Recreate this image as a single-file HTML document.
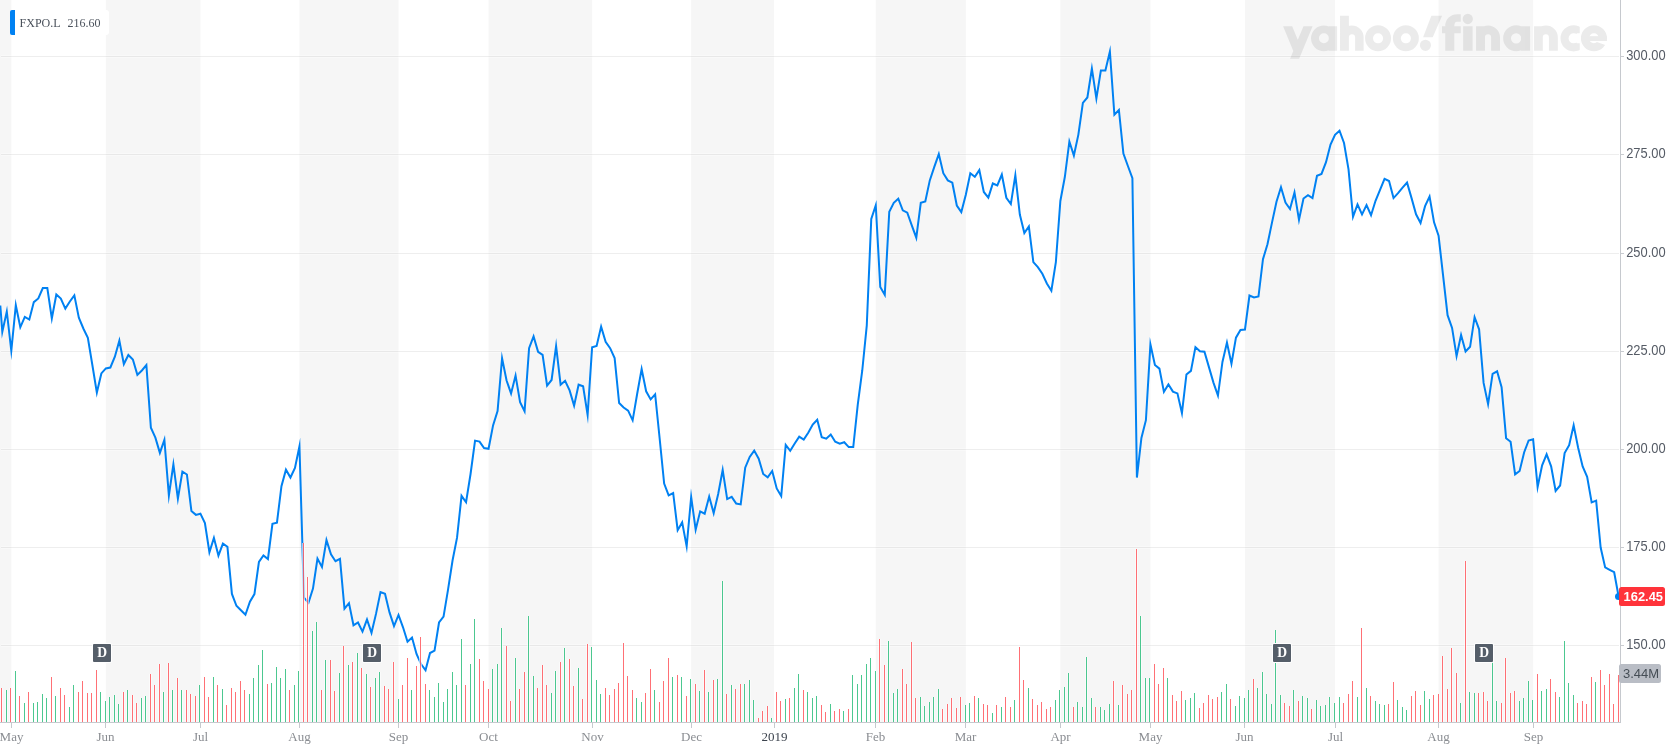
<!DOCTYPE html><html><head><meta charset="utf-8"><title>FXPO.L</title><style>html,body{margin:0;padding:0;background:#fff;}body{width:1675px;height:752px;overflow:hidden;font-family:"Liberation Sans",sans-serif;}svg{display:block;will-change:transform}text{white-space:pre}</style></head><body>
<svg width="1675" height="752" viewBox="0 0 1675 752">
<rect x="0.00" y="0" width="11.30" height="722" fill="#f6f6f6"/>
<rect x="105.86" y="0" width="94.55" height="722" fill="#f6f6f6"/>
<rect x="299.46" y="0" width="99.05" height="722" fill="#f6f6f6"/>
<rect x="488.56" y="0" width="103.56" height="722" fill="#f6f6f6"/>
<rect x="691.17" y="0" width="82.83" height="722" fill="#f6f6f6"/>
<rect x="875.77" y="0" width="90.05" height="722" fill="#f6f6f6"/>
<rect x="1060.36" y="0" width="90.05" height="722" fill="#f6f6f6"/>
<rect x="1244.96" y="0" width="90.05" height="722" fill="#f6f6f6"/>
<rect x="1438.57" y="0" width="94.55" height="722" fill="#f6f6f6"/>
<rect x="1" y="55" width="1618" height="3" fill="#fff" fill-opacity="0.3" shape-rendering="crispEdges"/>
<rect x="1" y="56" width="1618" height="1" fill="#000" fill-opacity="0.065" shape-rendering="crispEdges"/>
<rect x="1621" y="56" width="3" height="1" fill="#c9ccd1" shape-rendering="crispEdges"/>
<rect x="1" y="153" width="1618" height="3" fill="#fff" fill-opacity="0.3" shape-rendering="crispEdges"/>
<rect x="1" y="154" width="1618" height="1" fill="#000" fill-opacity="0.065" shape-rendering="crispEdges"/>
<rect x="1621" y="154" width="3" height="1" fill="#c9ccd1" shape-rendering="crispEdges"/>
<rect x="1" y="252" width="1618" height="3" fill="#fff" fill-opacity="0.3" shape-rendering="crispEdges"/>
<rect x="1" y="253" width="1618" height="1" fill="#000" fill-opacity="0.065" shape-rendering="crispEdges"/>
<rect x="1621" y="253" width="3" height="1" fill="#c9ccd1" shape-rendering="crispEdges"/>
<rect x="1" y="350" width="1618" height="3" fill="#fff" fill-opacity="0.3" shape-rendering="crispEdges"/>
<rect x="1" y="351" width="1618" height="1" fill="#000" fill-opacity="0.065" shape-rendering="crispEdges"/>
<rect x="1621" y="351" width="3" height="1" fill="#c9ccd1" shape-rendering="crispEdges"/>
<rect x="1" y="448" width="1618" height="3" fill="#fff" fill-opacity="0.3" shape-rendering="crispEdges"/>
<rect x="1" y="449" width="1618" height="1" fill="#000" fill-opacity="0.065" shape-rendering="crispEdges"/>
<rect x="1621" y="449" width="3" height="1" fill="#c9ccd1" shape-rendering="crispEdges"/>
<rect x="1" y="546" width="1618" height="3" fill="#fff" fill-opacity="0.3" shape-rendering="crispEdges"/>
<rect x="1" y="547" width="1618" height="1" fill="#000" fill-opacity="0.065" shape-rendering="crispEdges"/>
<rect x="1621" y="547" width="3" height="1" fill="#c9ccd1" shape-rendering="crispEdges"/>
<rect x="1" y="644" width="1618" height="3" fill="#fff" fill-opacity="0.3" shape-rendering="crispEdges"/>
<rect x="1" y="645" width="1618" height="1" fill="#000" fill-opacity="0.065" shape-rendering="crispEdges"/>
<rect x="1621" y="645" width="3" height="1" fill="#c9ccd1" shape-rendering="crispEdges"/>
<defs><mask id="mc" maskUnits="userSpaceOnUse" x="1550" y="10" width="70" height="60"><rect x="1550" y="10" width="70" height="60" fill="#fff"/><path d="M1579.75 21.12L1590.81 21.12L1590.81 55.51L1579.75 55.51zM1573.62 38.31L1576.84 33.15L1590.81 33.15L1590.81 43.36L1576.84 43.36z" fill="#000"/></mask><mask id="me" maskUnits="userSpaceOnUse" x="1570" y="10" width="60" height="60"><rect x="1570" y="10" width="60" height="60" fill="#fff"/><path d="M1593.93 41.00L1609.62 41.00L1609.62 46.59z" fill="#000"/></mask></defs><g opacity="0.08" fill="#000"><path fill-rule="nonzero" d="M1283.06 26.17L1292.19 26.17L1297.78 39.82L1303.48 26.17L1312.61 26.17L1299.18 58.73L1290.04 58.73L1293.27 50.88zM1311.00 38.31a12.89 12.89 0 1 1 25.79 0a12.89 12.89 0 1 1 -25.79 0zM1318.95 38.31a4.94 4.94 0 1 0 9.89 0a4.94 4.94 0 1 0 -9.89 0zM1328.73 26.17H1337.11V50.67H1328.73zM1340.01 15.75H1348.93V50.67H1340.01zM1340.01 37.24A11.82 11.82 0 0 1 1363.65 37.24V50.67H1355.06V37.24A3.06 3.06 0 0 0 1348.93 37.24V50.67H1340.01zM1365.05 38.31a13.00 13.00 0 1 1 26.00 0a13.00 13.00 0 1 1 -26.00 0zM1373.00 38.31a5.05 5.05 0 1 0 10.10 0a5.05 5.05 0 1 0 -10.10 0zM1392.88 38.31a13.00 13.00 0 1 1 26.00 0a13.00 13.00 0 1 1 -26.00 0zM1400.83 38.31a5.05 5.05 0 1 0 10.10 0a5.05 5.05 0 1 0 -10.10 0zM1431.35 15.75L1442.10 15.75L1432.75 37.24L1423.08 37.24zM1419.85 45.30a5.59 5.59 0 1 1 11.18 0a5.59 5.59 0 1 1 -11.18 0zM1445.21 50.67V25.95A11.82 11.82 0 0 1 1457.03 14.13H1460.79V21.66H1457.03A2.69 4.30 0 0 0 1454.34 25.95V50.67zM1441.98 26.17H1460.79V33.15H1441.98zM1463.15 26.17H1472.61V50.67H1463.15zM1462.62 18.97a5.16 5.16 0 1 1 10.32 0a5.16 5.16 0 1 1 -10.32 0zM1476.05 26.17H1484.97V50.67H1476.05zM1476.05 37.40A11.98 11.98 0 0 1 1500.01 37.40V50.67H1491.09V37.40A3.06 3.06 0 0 0 1484.97 37.40V50.67H1476.05zM1503.13 38.31a13.00 13.00 0 1 1 26.00 0a13.00 13.00 0 1 1 -26.00 0zM1510.97 38.31a5.16 5.16 0 1 0 10.32 0a5.16 5.16 0 1 0 -10.32 0zM1520.97 26.17H1530.10V50.67H1520.97zM1534.08 26.17H1542.78V50.67H1534.08zM1534.08 37.29A11.87 11.87 0 0 1 1557.82 37.29V50.67H1548.91V37.29A3.06 3.06 0 0 0 1542.78 37.29V50.67H1534.08z"/><path mask="url(#mc)" d="M1560.51 38.31a13.11 13.11 0 1 1 26.22 0a13.11 13.11 0 1 1 -26.22 0zM1568.57 38.31a5.05 5.05 0 1 0 10.10 0a5.05 5.05 0 1 0 -10.10 0z"/><g mask="url(#me)"><path d="M1580.93 38.31a13.00 13.00 0 1 1 26.00 0a13.00 13.00 0 1 1 -26.00 0zM1589.09 38.31a4.84 4.84 0 1 0 9.67 0a4.84 4.84 0 1 0 -9.67 0z"/></g><path d="M1585.33 36.16H1606.72V41.00H1585.33z"/></g>
<polyline points="0.30,305.50 2.30,331.95 6.80,311.48 11.30,350.80 15.81,305.21 20.31,327.28 24.81,316.83 29.31,319.51 33.82,302.10 38.32,298.50 42.82,288.00 47.32,288.00 51.83,318.51 56.33,294.51 60.83,298.50 65.33,308.55 69.84,301.50 74.34,295.34 78.84,317.70 83.34,328.50 87.85,337.80 92.35,365.00 96.85,392.59 101.35,373.40 105.86,368.40 110.36,367.50 114.86,356.70 119.36,340.70 123.86,364.07 128.37,355.01 132.87,359.50 137.37,374.90 141.87,370.50 146.38,365.12 150.88,427.70 155.38,437.60 159.88,452.87 164.39,439.81 168.89,495.46 173.39,464.37 177.89,498.61 182.40,471.63 186.90,474.50 191.40,510.90 195.90,514.87 200.41,513.68 204.91,523.00 209.41,552.25 213.91,537.86 218.42,555.58 222.92,543.65 227.42,546.80 231.92,593.90 236.42,605.80 240.93,610.30 245.43,614.76 249.93,601.70 254.43,594.10 258.94,561.80 263.44,555.48 267.94,559.04 272.44,523.90 276.95,522.60 281.45,486.20 285.95,469.67 290.45,477.49 294.96,468.00 299.46,446.19 303.96,597.60 308.46,602.71 312.97,588.60 317.47,558.62 321.97,567.01 326.47,540.08 330.98,554.40 335.48,561.19 339.98,558.79 344.48,608.70 348.98,603.16 353.49,625.28 357.99,622.44 362.49,631.57 366.99,619.55 371.50,632.81 376.00,613.90 380.50,592.11 385.00,593.70 389.51,612.40 394.01,626.13 398.51,614.93 403.01,627.30 407.52,641.76 412.02,637.57 416.52,653.90 421.02,664.10 425.53,670.31 430.03,653.00 434.53,650.70 439.03,622.50 443.54,616.60 448.04,589.60 452.54,560.50 457.04,537.70 461.54,495.81 466.05,502.22 470.55,474.00 475.05,440.59 479.55,441.60 484.06,448.00 488.56,448.76 493.06,425.40 497.56,411.00 502.07,358.24 506.57,380.50 511.07,393.42 515.57,375.53 520.08,402.10 524.58,411.19 529.08,348.20 533.58,336.45 538.09,351.80 542.59,354.90 547.09,385.62 551.59,380.00 556.10,346.18 560.60,384.73 565.10,380.77 569.60,390.40 574.10,405.65 578.61,384.69 583.11,386.30 587.61,414.95 592.11,347.30 596.62,345.90 601.12,326.64 605.62,341.90 610.12,348.20 614.63,358.10 619.13,403.00 623.63,407.50 628.13,410.70 632.64,420.31 637.14,394.00 641.64,369.00 646.14,391.30 650.65,399.40 655.15,394.30 659.65,438.50 664.15,483.50 668.66,495.29 673.16,492.99 677.66,530.17 682.16,522.43 686.66,546.34 691.17,497.00 695.67,529.65 700.17,511.36 704.67,513.68 709.18,496.60 713.68,513.14 718.18,494.00 722.68,470.02 727.19,499.09 731.69,496.90 736.19,503.60 740.69,504.43 745.20,467.70 749.70,456.90 754.20,450.63 758.70,458.70 763.21,474.00 767.71,477.39 772.21,471.02 776.71,488.40 781.22,496.09 785.72,444.91 790.22,450.83 794.72,443.50 799.22,436.67 803.73,439.57 808.23,432.70 812.73,424.60 817.23,419.70 821.74,437.20 826.24,438.65 830.74,434.48 835.24,441.70 839.75,443.70 844.25,442.25 848.75,447.10 853.25,447.10 857.76,404.60 862.26,370.50 866.76,325.70 871.26,219.00 875.77,205.42 880.27,287.00 884.77,294.88 889.27,211.80 893.78,202.80 898.28,198.76 902.78,210.40 907.28,212.70 911.78,225.30 916.29,237.71 920.79,202.80 925.29,201.40 929.79,180.40 934.30,166.90 938.80,154.11 943.30,173.20 947.80,180.40 952.31,182.70 956.81,205.50 961.31,212.10 965.81,194.80 970.32,173.32 974.82,176.81 979.32,170.12 983.82,192.00 988.33,197.58 992.83,183.47 997.33,185.49 1001.83,174.55 1006.34,197.80 1010.84,204.06 1015.34,175.30 1019.84,214.50 1024.34,232.99 1028.85,226.39 1033.35,262.10 1037.85,267.10 1042.35,273.80 1046.86,283.50 1051.36,290.76 1055.86,262.10 1060.36,201.00 1064.87,176.80 1069.37,141.52 1073.87,155.52 1078.37,134.60 1082.88,102.90 1087.38,97.50 1091.88,68.50 1096.38,98.40 1100.89,70.40 1105.39,70.40 1109.89,51.60 1114.39,114.73 1118.90,109.94 1123.40,153.50 1127.90,166.00 1132.40,178.10 1136.90,477.54 1141.41,438.00 1145.91,420.20 1150.41,344.41 1154.91,365.00 1159.42,368.60 1163.92,391.82 1168.42,384.37 1172.92,391.60 1177.43,393.40 1181.93,413.04 1186.43,374.50 1190.93,370.90 1195.44,347.08 1199.94,351.20 1204.44,351.70 1208.94,367.10 1213.45,382.60 1217.95,395.53 1222.45,361.90 1226.95,342.60 1231.46,363.69 1235.96,337.70 1240.46,330.00 1244.96,329.60 1249.46,295.50 1253.97,297.49 1258.47,296.50 1262.97,259.20 1267.47,244.30 1271.98,222.60 1276.48,201.70 1280.98,187.17 1285.48,202.60 1289.99,209.02 1294.49,192.45 1298.99,219.82 1303.49,198.50 1308.00,195.19 1312.50,198.01 1317.00,175.70 1321.50,173.90 1326.01,162.20 1330.51,144.60 1335.01,134.80 1339.51,130.74 1344.02,143.00 1348.52,169.40 1353.02,216.81 1357.52,204.43 1362.02,214.38 1366.53,205.15 1371.03,215.27 1375.53,200.80 1380.03,189.90 1384.54,178.81 1389.04,181.00 1393.54,198.10 1398.04,193.20 1402.55,187.70 1407.05,182.62 1411.55,198.10 1416.05,214.30 1420.56,223.07 1425.06,206.20 1429.56,196.57 1434.06,222.30 1438.57,235.70 1443.07,275.30 1447.57,315.20 1452.07,327.90 1456.58,356.07 1461.08,334.95 1465.58,351.50 1470.08,346.80 1474.58,317.18 1479.09,329.30 1483.59,382.90 1488.09,404.18 1492.59,373.80 1497.10,371.29 1501.60,387.20 1506.10,438.20 1510.60,441.80 1515.11,474.33 1519.61,471.00 1524.11,452.50 1528.61,440.50 1533.12,439.33 1537.62,487.01 1542.12,465.30 1546.62,454.32 1551.13,466.30 1555.63,490.95 1560.13,485.50 1564.63,453.10 1569.14,445.20 1573.64,425.37 1578.14,447.80 1582.64,466.50 1587.14,476.80 1591.65,502.42 1596.15,500.69 1600.65,547.50 1605.15,567.40 1609.66,569.80 1614.16,572.20 1618.66,596.70" fill="none" stroke="#0081f2" stroke-width="2" stroke-linejoin="miter" stroke-miterlimit="10"/>
<g shape-rendering="crispEdges"><path d="M0 688h3v34h-3zM5 690h3v32h-3zM9 688h3v34h-3zM14 671h3v51h-3zM18 696h3v26h-3zM23 703h3v19h-3zM27 692h3v30h-3zM32 703h3v19h-3zM36 702h3v20h-3zM41 694h3v28h-3zM45 698h3v24h-3zM50 677h3v45h-3zM54 696h3v26h-3zM59 688h3v34h-3zM63 695h3v27h-3zM68 707h3v15h-3zM72 685h3v37h-3zM77 692h3v30h-3zM81 681h3v41h-3zM86 693h3v29h-3zM90 693h3v29h-3zM95 670h3v52h-3zM99 692h3v30h-3zM104 701h3v21h-3zM108 697h3v25h-3zM113 695h3v27h-3zM117 704h3v18h-3zM122 692h3v30h-3zM126 690h3v32h-3zM131 695h3v27h-3zM135 703h3v19h-3zM140 698h3v24h-3zM144 696h3v26h-3zM149 674h3v48h-3zM153 685h3v37h-3zM158 664h3v58h-3zM162 692h3v30h-3zM167 663h3v59h-3zM171 690h3v32h-3zM176 678h3v44h-3zM180 690h3v32h-3zM185 690h3v32h-3zM189 694h3v28h-3zM194 696h3v26h-3zM198 685h3v37h-3zM203 677h3v45h-3zM207 697h3v25h-3zM212 677h3v45h-3zM216 685h3v37h-3zM221 689h3v33h-3zM225 705h3v17h-3zM230 688h3v34h-3zM234 692h3v30h-3zM239 681h3v41h-3zM243 690h3v32h-3zM248 694h3v28h-3zM252 678h3v44h-3zM257 665h3v57h-3zM261 650h3v72h-3zM266 684h3v38h-3zM270 683h3v39h-3zM275 667h3v55h-3zM279 678h3v44h-3zM284 669h3v53h-3zM288 690h3v32h-3zM293 685h3v37h-3zM297 671h3v51h-3zM302 543h3v179h-3zM306 577h3v145h-3zM311 631h3v91h-3zM315 622h3v100h-3zM320 690h3v32h-3zM324 660h3v62h-3zM329 660h3v62h-3zM333 691h3v31h-3zM338 673h3v49h-3zM342 646h3v76h-3zM347 665h3v57h-3zM351 662h3v60h-3zM356 653h3v69h-3zM360 668h3v54h-3zM365 674h3v48h-3zM369 687h3v35h-3zM374 678h3v44h-3zM378 672h3v50h-3zM383 686h3v36h-3zM387 689h3v33h-3zM392 662h3v60h-3zM397 699h3v23h-3zM401 685h3v37h-3zM406 658h3v64h-3zM410 690h3v32h-3zM415 666h3v56h-3zM419 637h3v85h-3zM424 684h3v38h-3zM428 690h3v32h-3zM433 697h3v25h-3zM437 683h3v39h-3zM442 702h3v20h-3zM446 689h3v33h-3zM451 672h3v50h-3zM455 685h3v37h-3zM460 639h3v83h-3zM464 685h3v37h-3zM469 664h3v58h-3zM473 619h3v103h-3zM478 659h3v63h-3zM482 681h3v41h-3zM487 689h3v33h-3zM491 669h3v53h-3zM496 664h3v58h-3zM500 628h3v94h-3zM505 646h3v76h-3zM509 701h3v21h-3zM514 658h3v64h-3zM518 689h3v33h-3zM523 672h3v50h-3zM527 616h3v106h-3zM532 676h3v46h-3zM536 688h3v34h-3zM541 665h3v57h-3zM545 685h3v37h-3zM550 693h3v29h-3zM554 671h3v51h-3zM559 662h3v60h-3zM563 648h3v74h-3zM568 659h3v63h-3zM572 686h3v36h-3zM577 668h3v54h-3zM581 699h3v23h-3zM586 644h3v78h-3zM590 647h3v75h-3zM595 680h3v42h-3zM599 694h3v28h-3zM604 688h3v34h-3zM608 695h3v27h-3zM613 689h3v33h-3zM617 683h3v39h-3zM622 643h3v79h-3zM626 676h3v46h-3zM631 690h3v32h-3zM635 698h3v24h-3zM640 702h3v20h-3zM644 693h3v29h-3zM649 669h3v53h-3zM653 690h3v32h-3zM658 702h3v20h-3zM662 681h3v41h-3zM667 658h3v64h-3zM671 677h3v45h-3zM676 675h3v47h-3zM680 677h3v45h-3zM685 696h3v26h-3zM689 679h3v43h-3zM694 684h3v38h-3zM698 691h3v31h-3zM703 670h3v52h-3zM707 692h3v30h-3zM712 680h3v42h-3zM716 679h3v43h-3zM721 581h3v141h-3zM725 694h3v28h-3zM730 685h3v37h-3zM734 689h3v33h-3zM739 684h3v38h-3zM743 684h3v38h-3zM748 680h3v42h-3zM752 700h3v22h-3zM757 718h3v4h-3zM761 711h3v11h-3zM766 706h3v16h-3zM770 718h3v4h-3zM775 692h3v30h-3zM779 701h3v21h-3zM784 699h3v23h-3zM788 698h3v24h-3zM793 688h3v34h-3zM797 674h3v48h-3zM802 690h3v32h-3zM806 692h3v30h-3zM811 698h3v24h-3zM815 696h3v26h-3zM820 705h3v17h-3zM824 712h3v10h-3zM829 704h3v18h-3zM833 711h3v11h-3zM838 709h3v13h-3zM842 711h3v11h-3zM847 709h3v13h-3zM851 675h3v47h-3zM856 684h3v38h-3zM860 675h3v47h-3zM865 664h3v58h-3zM869 658h3v64h-3zM874 671h3v51h-3zM878 639h3v83h-3zM883 665h3v57h-3zM887 641h3v81h-3zM892 693h3v29h-3zM896 689h3v33h-3zM901 669h3v53h-3zM905 684h3v38h-3zM910 642h3v80h-3zM914 698h3v24h-3zM919 697h3v25h-3zM923 706h3v16h-3zM928 702h3v20h-3zM932 697h3v25h-3zM937 689h3v33h-3zM941 709h3v13h-3zM946 704h3v18h-3zM950 698h3v24h-3zM955 708h3v14h-3zM959 697h3v25h-3zM964 705h3v17h-3zM968 703h3v19h-3zM973 696h3v26h-3zM977 698h3v24h-3zM982 704h3v18h-3zM986 705h3v17h-3zM991 713h3v9h-3zM995 705h3v17h-3zM1000 707h3v15h-3zM1004 697h3v25h-3zM1009 707h3v15h-3zM1013 700h3v22h-3zM1018 647h3v75h-3zM1022 680h3v42h-3zM1027 688h3v34h-3zM1031 699h3v23h-3zM1036 705h3v17h-3zM1040 702h3v20h-3zM1045 709h3v13h-3zM1049 707h3v15h-3zM1054 700h3v22h-3zM1058 690h3v32h-3zM1063 687h3v35h-3zM1067 673h3v49h-3zM1072 707h3v15h-3zM1076 702h3v20h-3zM1081 707h3v15h-3zM1085 657h3v65h-3zM1090 698h3v24h-3zM1094 707h3v15h-3zM1099 707h3v15h-3zM1103 710h3v12h-3zM1108 704h3v18h-3zM1112 681h3v41h-3zM1117 705h3v17h-3zM1121 685h3v37h-3zM1126 694h3v28h-3zM1130 690h3v32h-3zM1135 549h3v173h-3zM1139 616h3v106h-3zM1144 678h3v44h-3zM1148 678h3v44h-3zM1153 664h3v58h-3zM1157 684h3v38h-3zM1162 668h3v54h-3zM1166 678h3v44h-3zM1171 695h3v27h-3zM1175 701h3v21h-3zM1180 691h3v31h-3zM1184 700h3v22h-3zM1189 698h3v24h-3zM1193 693h3v29h-3zM1198 708h3v14h-3zM1202 703h3v19h-3zM1207 695h3v27h-3zM1211 699h3v23h-3zM1216 697h3v25h-3zM1220 692h3v30h-3zM1225 684h3v38h-3zM1229 699h3v23h-3zM1234 706h3v16h-3zM1238 696h3v26h-3zM1243 698h3v24h-3zM1247 690h3v32h-3zM1252 679h3v43h-3zM1256 688h3v34h-3zM1261 672h3v50h-3zM1265 694h3v28h-3zM1270 704h3v18h-3zM1274 630h3v92h-3zM1279 695h3v27h-3zM1283 703h3v19h-3zM1288 706h3v16h-3zM1292 690h3v32h-3zM1297 701h3v21h-3zM1301 696h3v26h-3zM1306 698h3v24h-3zM1310 709h3v13h-3zM1315 700h3v22h-3zM1319 706h3v16h-3zM1324 705h3v17h-3zM1328 697h3v25h-3zM1333 703h3v19h-3zM1338 697h3v25h-3zM1342 703h3v19h-3zM1347 694h3v28h-3zM1351 681h3v41h-3zM1356 697h3v25h-3zM1360 628h3v94h-3zM1365 688h3v34h-3zM1369 696h3v26h-3zM1374 701h3v21h-3zM1378 704h3v18h-3zM1383 705h3v17h-3zM1387 704h3v18h-3zM1392 682h3v40h-3zM1396 700h3v22h-3zM1401 707h3v15h-3zM1405 710h3v12h-3zM1410 696h3v26h-3zM1414 691h3v31h-3zM1419 705h3v17h-3zM1423 691h3v31h-3zM1428 699h3v23h-3zM1432 695h3v27h-3zM1437 694h3v28h-3zM1441 656h3v66h-3zM1446 689h3v33h-3zM1450 648h3v74h-3zM1455 673h3v49h-3zM1459 703h3v19h-3zM1464 561h3v161h-3zM1468 692h3v30h-3zM1473 693h3v29h-3zM1477 693h3v29h-3zM1482 692h3v30h-3zM1486 701h3v21h-3zM1491 652h3v70h-3zM1495 701h3v21h-3zM1500 703h3v19h-3zM1504 658h3v64h-3zM1509 693h3v29h-3zM1513 691h3v31h-3zM1518 701h3v21h-3zM1522 698h3v24h-3zM1527 681h3v41h-3zM1531 700h3v22h-3zM1536 674h3v48h-3zM1540 691h3v31h-3zM1545 689h3v33h-3zM1549 679h3v43h-3zM1554 692h3v30h-3zM1558 697h3v25h-3zM1563 641h3v81h-3zM1567 683h3v39h-3zM1572 695h3v27h-3zM1576 703h3v19h-3zM1581 701h3v21h-3zM1585 704h3v18h-3zM1590 677h3v45h-3zM1594 682h3v40h-3zM1599 670h3v52h-3zM1603 685h3v37h-3zM1608 674h3v48h-3zM1612 704h3v18h-3zM1617 675h3v47h-3z" fill="#fff" fill-opacity="0.6"/><path d="M1 688h1v34h-1zM10 688h1v34h-1zM19 696h1v26h-1zM28 692h1v30h-1zM51 677h1v45h-1zM60 688h1v34h-1zM64 695h1v27h-1zM78 692h1v30h-1zM82 681h1v41h-1zM87 693h1v29h-1zM91 693h1v29h-1zM96 670h1v52h-1zM123 692h1v30h-1zM132 695h1v27h-1zM136 703h1v19h-1zM150 674h1v48h-1zM154 685h1v37h-1zM159 664h1v58h-1zM168 663h1v59h-1zM177 678h1v44h-1zM186 690h1v32h-1zM190 694h1v28h-1zM195 696h1v26h-1zM204 677h1v45h-1zM208 697h1v25h-1zM217 685h1v37h-1zM226 705h1v17h-1zM231 688h1v34h-1zM235 692h1v30h-1zM240 681h1v41h-1zM244 690h1v32h-1zM267 684h1v38h-1zM289 690h1v32h-1zM303 543h1v179h-1zM307 577h1v145h-1zM321 690h1v32h-1zM330 660h1v62h-1zM334 691h1v31h-1zM343 646h1v76h-1zM352 662h1v60h-1zM361 668h1v54h-1zM370 687h1v35h-1zM384 686h1v36h-1zM388 689h1v33h-1zM393 662h1v60h-1zM402 685h1v37h-1zM407 658h1v64h-1zM416 666h1v56h-1zM420 637h1v85h-1zM425 684h1v38h-1zM465 685h1v37h-1zM479 659h1v63h-1zM483 681h1v41h-1zM488 689h1v33h-1zM506 646h1v76h-1zM510 701h1v21h-1zM519 689h1v33h-1zM524 672h1v50h-1zM537 688h1v34h-1zM542 665h1v57h-1zM546 685h1v37h-1zM560 662h1v60h-1zM569 659h1v63h-1zM573 686h1v36h-1zM582 699h1v23h-1zM587 644h1v78h-1zM605 688h1v34h-1zM609 695h1v27h-1zM614 689h1v33h-1zM618 683h1v39h-1zM623 643h1v79h-1zM627 676h1v46h-1zM632 690h1v32h-1zM645 693h1v29h-1zM650 669h1v53h-1zM659 702h1v20h-1zM663 681h1v41h-1zM668 658h1v64h-1zM677 675h1v47h-1zM686 696h1v26h-1zM695 684h1v38h-1zM704 670h1v52h-1zM713 680h1v42h-1zM726 694h1v28h-1zM735 689h1v33h-1zM740 684h1v38h-1zM758 718h1v4h-1zM762 711h1v11h-1zM767 706h1v16h-1zM776 692h1v30h-1zM780 701h1v21h-1zM789 698h1v24h-1zM803 690h1v32h-1zM821 705h1v17h-1zM825 712h1v10h-1zM834 711h1v11h-1zM839 709h1v13h-1zM848 709h1v13h-1zM879 639h1v83h-1zM884 665h1v57h-1zM902 669h1v53h-1zM906 684h1v38h-1zM911 642h1v80h-1zM915 698h1v24h-1zM942 709h1v13h-1zM947 704h1v18h-1zM951 698h1v24h-1zM956 708h1v14h-1zM960 697h1v25h-1zM974 696h1v26h-1zM983 704h1v18h-1zM987 705h1v17h-1zM996 705h1v17h-1zM1005 697h1v25h-1zM1010 707h1v15h-1zM1019 647h1v75h-1zM1023 680h1v42h-1zM1032 699h1v23h-1zM1037 705h1v17h-1zM1041 702h1v20h-1zM1046 709h1v13h-1zM1050 707h1v15h-1zM1073 707h1v15h-1zM1095 707h1v15h-1zM1113 681h1v41h-1zM1122 685h1v37h-1zM1127 694h1v28h-1zM1131 690h1v32h-1zM1136 549h1v173h-1zM1154 664h1v58h-1zM1158 684h1v38h-1zM1163 668h1v54h-1zM1172 695h1v27h-1zM1176 701h1v21h-1zM1181 691h1v31h-1zM1199 708h1v14h-1zM1203 703h1v19h-1zM1208 695h1v27h-1zM1212 699h1v23h-1zM1217 697h1v25h-1zM1230 699h1v23h-1zM1253 679h1v43h-1zM1284 703h1v19h-1zM1289 706h1v16h-1zM1298 701h1v21h-1zM1311 709h1v13h-1zM1343 703h1v19h-1zM1348 694h1v28h-1zM1352 681h1v41h-1zM1361 628h1v94h-1zM1370 696h1v26h-1zM1388 704h1v18h-1zM1393 682h1v40h-1zM1411 696h1v26h-1zM1415 691h1v31h-1zM1420 705h1v17h-1zM1433 695h1v27h-1zM1438 694h1v28h-1zM1442 656h1v66h-1zM1447 689h1v33h-1zM1451 648h1v74h-1zM1456 673h1v49h-1zM1465 561h1v161h-1zM1478 693h1v29h-1zM1483 692h1v30h-1zM1487 701h1v21h-1zM1501 703h1v19h-1zM1505 658h1v64h-1zM1510 693h1v29h-1zM1514 691h1v31h-1zM1537 674h1v48h-1zM1550 679h1v43h-1zM1555 692h1v30h-1zM1577 703h1v19h-1zM1582 701h1v21h-1zM1586 704h1v18h-1zM1591 677h1v45h-1zM1600 670h1v52h-1zM1604 685h1v37h-1zM1609 674h1v48h-1zM1613 704h1v18h-1zM1618 675h1v47h-1z" fill="#ff333a" fill-opacity="0.7"/><path d="M6 690h1v32h-1zM15 671h1v51h-1zM24 703h1v19h-1zM33 703h1v19h-1zM37 702h1v20h-1zM42 694h1v28h-1zM46 698h1v24h-1zM55 696h1v26h-1zM69 707h1v15h-1zM73 685h1v37h-1zM100 692h1v30h-1zM105 701h1v21h-1zM109 697h1v25h-1zM114 695h1v27h-1zM118 704h1v18h-1zM127 690h1v32h-1zM141 698h1v24h-1zM145 696h1v26h-1zM163 692h1v30h-1zM172 690h1v32h-1zM181 690h1v32h-1zM199 685h1v37h-1zM213 677h1v45h-1zM222 689h1v33h-1zM249 694h1v28h-1zM253 678h1v44h-1zM258 665h1v57h-1zM262 650h1v72h-1zM271 683h1v39h-1zM276 667h1v55h-1zM280 678h1v44h-1zM285 669h1v53h-1zM294 685h1v37h-1zM298 671h1v51h-1zM312 631h1v91h-1zM316 622h1v100h-1zM325 660h1v62h-1zM339 673h1v49h-1zM348 665h1v57h-1zM357 653h1v69h-1zM366 674h1v48h-1zM375 678h1v44h-1zM379 672h1v50h-1zM398 699h1v23h-1zM411 690h1v32h-1zM429 690h1v32h-1zM434 697h1v25h-1zM438 683h1v39h-1zM443 702h1v20h-1zM447 689h1v33h-1zM452 672h1v50h-1zM456 685h1v37h-1zM461 639h1v83h-1zM470 664h1v58h-1zM474 619h1v103h-1zM492 669h1v53h-1zM497 664h1v58h-1zM501 628h1v94h-1zM515 658h1v64h-1zM528 616h1v106h-1zM533 676h1v46h-1zM551 693h1v29h-1zM555 671h1v51h-1zM564 648h1v74h-1zM578 668h1v54h-1zM591 647h1v75h-1zM596 680h1v42h-1zM600 694h1v28h-1zM636 698h1v24h-1zM641 702h1v20h-1zM654 690h1v32h-1zM672 677h1v45h-1zM681 677h1v45h-1zM690 679h1v43h-1zM699 691h1v31h-1zM708 692h1v30h-1zM717 679h1v43h-1zM722 581h1v141h-1zM731 685h1v37h-1zM744 684h1v38h-1zM749 680h1v42h-1zM753 700h1v22h-1zM771 718h1v4h-1zM785 699h1v23h-1zM794 688h1v34h-1zM798 674h1v48h-1zM807 692h1v30h-1zM812 698h1v24h-1zM816 696h1v26h-1zM830 704h1v18h-1zM843 711h1v11h-1zM852 675h1v47h-1zM857 684h1v38h-1zM861 675h1v47h-1zM866 664h1v58h-1zM870 658h1v64h-1zM875 671h1v51h-1zM888 641h1v81h-1zM893 693h1v29h-1zM897 689h1v33h-1zM920 697h1v25h-1zM924 706h1v16h-1zM929 702h1v20h-1zM933 697h1v25h-1zM938 689h1v33h-1zM965 705h1v17h-1zM969 703h1v19h-1zM978 698h1v24h-1zM992 713h1v9h-1zM1001 707h1v15h-1zM1014 700h1v22h-1zM1028 688h1v34h-1zM1055 700h1v22h-1zM1059 690h1v32h-1zM1064 687h1v35h-1zM1068 673h1v49h-1zM1077 702h1v20h-1zM1082 707h1v15h-1zM1086 657h1v65h-1zM1091 698h1v24h-1zM1100 707h1v15h-1zM1104 710h1v12h-1zM1109 704h1v18h-1zM1118 705h1v17h-1zM1140 616h1v106h-1zM1145 678h1v44h-1zM1149 678h1v44h-1zM1167 678h1v44h-1zM1185 700h1v22h-1zM1190 698h1v24h-1zM1194 693h1v29h-1zM1221 692h1v30h-1zM1226 684h1v38h-1zM1235 706h1v16h-1zM1239 696h1v26h-1zM1244 698h1v24h-1zM1248 690h1v32h-1zM1257 688h1v34h-1zM1262 672h1v50h-1zM1266 694h1v28h-1zM1271 704h1v18h-1zM1275 630h1v92h-1zM1280 695h1v27h-1zM1293 690h1v32h-1zM1302 696h1v26h-1zM1307 698h1v24h-1zM1316 700h1v22h-1zM1320 706h1v16h-1zM1325 705h1v17h-1zM1329 697h1v25h-1zM1334 703h1v19h-1zM1339 697h1v25h-1zM1357 697h1v25h-1zM1366 688h1v34h-1zM1375 701h1v21h-1zM1379 704h1v18h-1zM1384 705h1v17h-1zM1397 700h1v22h-1zM1402 707h1v15h-1zM1406 710h1v12h-1zM1424 691h1v31h-1zM1429 699h1v23h-1zM1460 703h1v19h-1zM1469 692h1v30h-1zM1474 693h1v29h-1zM1492 652h1v70h-1zM1496 701h1v21h-1zM1519 701h1v21h-1zM1523 698h1v24h-1zM1528 681h1v41h-1zM1532 700h1v22h-1zM1541 691h1v31h-1zM1546 689h1v33h-1zM1559 697h1v25h-1zM1564 641h1v81h-1zM1568 683h1v39h-1zM1573 695h1v27h-1zM1595 682h1v40h-1z" fill="#00b061" fill-opacity="0.7"/></g>
<rect x="0" y="722" width="1621" height="1" fill="#c6c9ce" shape-rendering="crispEdges"/>
<rect x="1620" y="0" width="1" height="723" fill="#c6c9ce" shape-rendering="crispEdges"/>
<rect x="11" y="723" width="1" height="5" fill="#c6c9ce" shape-rendering="crispEdges"/>
<text x="11.5" y="741" font-family="Liberation Serif, serif" font-size="13" fill="#8a8d92" text-anchor="middle">May</text>
<rect x="105" y="723" width="1" height="5" fill="#c6c9ce" shape-rendering="crispEdges"/>
<text x="105.5" y="741" font-family="Liberation Serif, serif" font-size="13" fill="#8a8d92" text-anchor="middle">Jun</text>
<rect x="200" y="723" width="1" height="5" fill="#c6c9ce" shape-rendering="crispEdges"/>
<text x="200.5" y="741" font-family="Liberation Serif, serif" font-size="13" fill="#8a8d92" text-anchor="middle">Jul</text>
<rect x="299" y="723" width="1" height="5" fill="#c6c9ce" shape-rendering="crispEdges"/>
<text x="299.5" y="741" font-family="Liberation Serif, serif" font-size="13" fill="#8a8d92" text-anchor="middle">Aug</text>
<rect x="398" y="723" width="1" height="5" fill="#c6c9ce" shape-rendering="crispEdges"/>
<text x="398.5" y="741" font-family="Liberation Serif, serif" font-size="13" fill="#8a8d92" text-anchor="middle">Sep</text>
<rect x="488" y="723" width="1" height="5" fill="#c6c9ce" shape-rendering="crispEdges"/>
<text x="488.5" y="741" font-family="Liberation Serif, serif" font-size="13" fill="#8a8d92" text-anchor="middle">Oct</text>
<rect x="592" y="723" width="1" height="5" fill="#c6c9ce" shape-rendering="crispEdges"/>
<text x="592.5" y="741" font-family="Liberation Serif, serif" font-size="13" fill="#8a8d92" text-anchor="middle">Nov</text>
<rect x="691" y="723" width="1" height="5" fill="#c6c9ce" shape-rendering="crispEdges"/>
<text x="691.5" y="741" font-family="Liberation Serif, serif" font-size="13" fill="#8a8d92" text-anchor="middle">Dec</text>
<rect x="774" y="723" width="1" height="5" fill="#c6c9ce" shape-rendering="crispEdges"/>
<text x="774.5" y="741" font-family="Liberation Serif, serif" font-size="13" fill="#3c434d" text-anchor="middle">2019</text>
<rect x="875" y="723" width="1" height="5" fill="#c6c9ce" shape-rendering="crispEdges"/>
<text x="875.5" y="741" font-family="Liberation Serif, serif" font-size="13" fill="#8a8d92" text-anchor="middle">Feb</text>
<rect x="965" y="723" width="1" height="5" fill="#c6c9ce" shape-rendering="crispEdges"/>
<text x="965.5" y="741" font-family="Liberation Serif, serif" font-size="13" fill="#8a8d92" text-anchor="middle">Mar</text>
<rect x="1060" y="723" width="1" height="5" fill="#c6c9ce" shape-rendering="crispEdges"/>
<text x="1060.5" y="741" font-family="Liberation Serif, serif" font-size="13" fill="#8a8d92" text-anchor="middle">Apr</text>
<rect x="1150" y="723" width="1" height="5" fill="#c6c9ce" shape-rendering="crispEdges"/>
<text x="1150.5" y="741" font-family="Liberation Serif, serif" font-size="13" fill="#8a8d92" text-anchor="middle">May</text>
<rect x="1244" y="723" width="1" height="5" fill="#c6c9ce" shape-rendering="crispEdges"/>
<text x="1244.5" y="741" font-family="Liberation Serif, serif" font-size="13" fill="#8a8d92" text-anchor="middle">Jun</text>
<rect x="1335" y="723" width="1" height="5" fill="#c6c9ce" shape-rendering="crispEdges"/>
<text x="1335.5" y="741" font-family="Liberation Serif, serif" font-size="13" fill="#8a8d92" text-anchor="middle">Jul</text>
<rect x="1438" y="723" width="1" height="5" fill="#c6c9ce" shape-rendering="crispEdges"/>
<text x="1438.5" y="741" font-family="Liberation Serif, serif" font-size="13" fill="#8a8d92" text-anchor="middle">Aug</text>
<rect x="1533" y="723" width="1" height="5" fill="#c6c9ce" shape-rendering="crispEdges"/>
<text x="1533.5" y="741" font-family="Liberation Serif, serif" font-size="13" fill="#8a8d92" text-anchor="middle">Sep</text>
<text transform="translate(1626.2,60) scale(1,1.085)" font-family="Liberation Sans, sans-serif" font-size="12.9" fill="#555b65">300.00</text>
<text transform="translate(1626.2,158) scale(1,1.085)" font-family="Liberation Sans, sans-serif" font-size="12.9" fill="#555b65">275.00</text>
<text transform="translate(1626.2,257) scale(1,1.085)" font-family="Liberation Sans, sans-serif" font-size="12.9" fill="#555b65">250.00</text>
<text transform="translate(1626.2,355) scale(1,1.085)" font-family="Liberation Sans, sans-serif" font-size="12.9" fill="#555b65">225.00</text>
<text transform="translate(1626.2,453) scale(1,1.085)" font-family="Liberation Sans, sans-serif" font-size="12.9" fill="#555b65">200.00</text>
<text transform="translate(1626.2,551) scale(1,1.085)" font-family="Liberation Sans, sans-serif" font-size="12.9" fill="#555b65">175.00</text>
<text transform="translate(1626.2,649) scale(1,1.085)" font-family="Liberation Sans, sans-serif" font-size="12.9" fill="#555b65">150.00</text>
<rect x="92" y="643" width="20" height="20" rx="2" fill="#fff"/>
<rect x="93" y="644" width="18" height="18" rx="1" fill="#555e69"/>
<text x="102.1" y="657" font-family="Liberation Serif, serif" font-weight="bold" font-size="13.6" fill="#fff" text-anchor="middle">D</text>
<rect x="362" y="643" width="20" height="20" rx="2" fill="#fff"/>
<rect x="363" y="644" width="18" height="18" rx="1" fill="#555e69"/>
<text x="372.1" y="657" font-family="Liberation Serif, serif" font-weight="bold" font-size="13.6" fill="#fff" text-anchor="middle">D</text>
<rect x="1272" y="643" width="20" height="20" rx="2" fill="#fff"/>
<rect x="1273" y="644" width="18" height="18" rx="1" fill="#555e69"/>
<text x="1282.1" y="657" font-family="Liberation Serif, serif" font-weight="bold" font-size="13.6" fill="#fff" text-anchor="middle">D</text>
<rect x="1474" y="643" width="20" height="20" rx="2" fill="#fff"/>
<rect x="1475" y="644" width="18" height="18" rx="1" fill="#555e69"/>
<text x="1484.1" y="657" font-family="Liberation Serif, serif" font-weight="bold" font-size="13.6" fill="#fff" text-anchor="middle">D</text>
<path d="M12 10h3v25h-3a2 2 0 0 1-2-2v-21a2 2 0 0 1 2-2z" fill="#0081f2"/>
<path d="M15 10h91a3 3 0 0 1 3 3v19a3 3 0 0 1-3 3h-91z" fill="#fff"/>
<text x="19.6" y="27" font-family="Liberation Serif, serif" font-size="12" fill="#4a515b">FXPO.L</text>
<text x="67.6" y="27" font-family="Liberation Serif, serif" font-size="12" fill="#4a515b">216.60</text>
<circle cx="1618.5" cy="596.5" r="3.5" fill="#0081f2"/>
<rect x="1619" y="587" width="46" height="19" rx="2.5" fill="#ff333a"/>
<text transform="translate(1623.6,601) scale(1,1.05)" font-family="Liberation Sans, sans-serif" font-weight="bold" font-size="12.9" fill="#fff">162.45</text>
<rect x="1619" y="664" width="42" height="19" rx="2.5" fill="#b9bdc5"/>
<text transform="translate(1623,678) scale(1,1.05)" font-family="Liberation Sans, sans-serif" font-size="13" fill="#464e56">3.44M</text>
</svg></body></html>
